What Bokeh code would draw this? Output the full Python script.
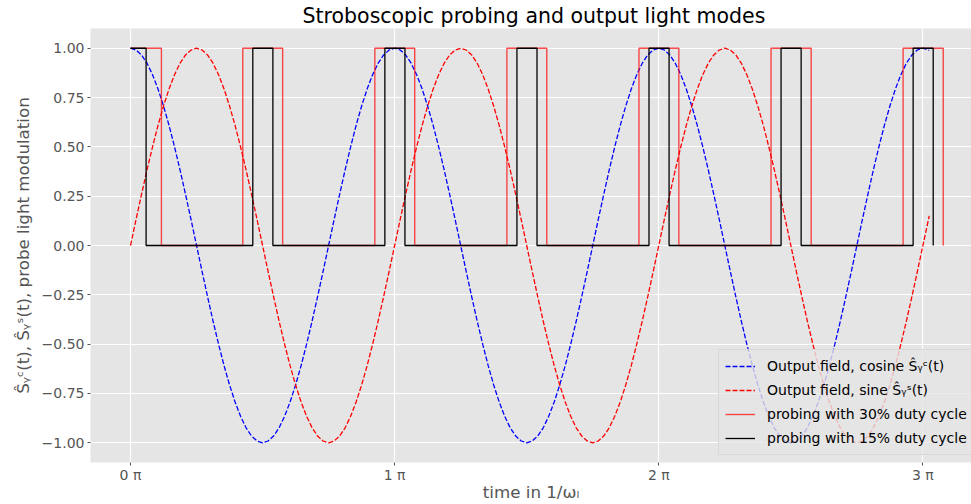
from bokeh.plotting import figure
from bokeh.models import Range1d, FixedTicker, Legend, LegendItem
from bokeh.embed import file_html
from bokeh.resources import INLINE

# ---- data (time in units of pi, sampled every pi/48, plus the last sample) ----
t_pi = [i / 48 for i in range(145)] + [3.024]

cos_vals = [
    1, 0.991, 0.966, 0.924, 0.866, 0.793, 0.707, 0.609, 0.5, 0.383, 0.259, 0.131,
    0, -0.131, -0.259, -0.383, -0.5, -0.609, -0.707, -0.793, -0.866, -0.924, -0.966, -0.991,
    -1, -0.991, -0.966, -0.924, -0.866, -0.793, -0.707, -0.609, -0.5, -0.383, -0.259, -0.131,
    0, 0.131, 0.259, 0.383, 0.5, 0.609, 0.707, 0.793, 0.866, 0.924, 0.966, 0.991,
    1, 0.991, 0.966, 0.924, 0.866, 0.793, 0.707, 0.609, 0.5, 0.383, 0.259, 0.131,
    0, -0.131, -0.259, -0.383, -0.5, -0.609, -0.707, -0.793, -0.866, -0.924, -0.966, -0.991,
    -1, -0.991, -0.966, -0.924, -0.866, -0.793, -0.707, -0.609, -0.5, -0.383, -0.259, -0.131,
    0, 0.131, 0.259, 0.383, 0.5, 0.609, 0.707, 0.793, 0.866, 0.924, 0.966, 0.991,
    1, 0.991, 0.966, 0.924, 0.866, 0.793, 0.707, 0.609, 0.5, 0.383, 0.259, 0.131,
    0, -0.131, -0.259, -0.383, -0.5, -0.609, -0.707, -0.793, -0.866, -0.924, -0.966, -0.991,
    -1, -0.991, -0.966, -0.924, -0.866, -0.793, -0.707, -0.609, -0.5, -0.383, -0.259, -0.131,
    0, 0.131, 0.259, 0.383, 0.5, 0.609, 0.707, 0.793, 0.866, 0.924, 0.966, 0.991,
    1, 0.989]

sin_vals = [
    0, 0.131, 0.259, 0.383, 0.5, 0.609, 0.707, 0.793, 0.866, 0.924, 0.966, 0.991,
    1, 0.991, 0.966, 0.924, 0.866, 0.793, 0.707, 0.609, 0.5, 0.383, 0.259, 0.131,
    0, -0.131, -0.259, -0.383, -0.5, -0.609, -0.707, -0.793, -0.866, -0.924, -0.966, -0.991,
    -1, -0.991, -0.966, -0.924, -0.866, -0.793, -0.707, -0.609, -0.5, -0.383, -0.259, -0.131,
    0, 0.131, 0.259, 0.383, 0.5, 0.609, 0.707, 0.793, 0.866, 0.924, 0.966, 0.991,
    1, 0.991, 0.966, 0.924, 0.866, 0.793, 0.707, 0.609, 0.5, 0.383, 0.259, 0.131,
    0, -0.131, -0.259, -0.383, -0.5, -0.609, -0.707, -0.793, -0.866, -0.924, -0.966, -0.991,
    -1, -0.991, -0.966, -0.924, -0.866, -0.793, -0.707, -0.609, -0.5, -0.383, -0.259, -0.131,
    0, 0.131, 0.259, 0.383, 0.5, 0.609, 0.707, 0.793, 0.866, 0.924, 0.966, 0.991,
    1, 0.991, 0.966, 0.924, 0.866, 0.793, 0.707, 0.609, 0.5, 0.383, 0.259, 0.131,
    0, -0.131, -0.259, -0.383, -0.5, -0.609, -0.707, -0.793, -0.866, -0.924, -0.966, -0.991,
    -1, -0.991, -0.966, -0.924, -0.866, -0.793, -0.707, -0.609, -0.5, -0.383, -0.259, -0.131,
    0, 0.150]

# switching times of the probe modulation (starts high at t=0)
edges_30 = [0.117, 0.425, 0.576, 0.925, 1.076, 1.425, 1.576, 1.925, 2.076, 2.425, 2.577, 2.925, 3.077]
edges_15 = [0.059, 0.463, 0.539, 0.963, 1.039, 1.463, 1.539, 1.963, 2.039, 2.463, 2.539, 2.963, 3.039]

x_ticks = [0, 1, 2, 3]
x_tick_labels = ["0 π", "1 π", "2 π", "3 π"]
y_ticks = [-1.0, -0.75, -0.5, -0.25, 0.0, 0.25, 0.5, 0.75, 1.0]
y_tick_labels = ["−1.00", "−0.75", "−0.50", "−0.25", "0.00", "0.25", "0.50", "0.75", "1.00"]

labels = ["Output field, cosine Ŝᵧᶜ(t)", "Output field, sine Ŝᵧˢ(t)",
          "probing with 30% duty cycle", "probing with 15% duty cycle"]


def step_line(edges, start=1):
    xs, ys = [0], [start]
    cur = start
    for e in edges:
        xs.append(e); ys.append(cur)
        cur = 1 - cur
        xs.append(e); ys.append(cur)
    return xs, ys


FONT = "DejaVu Sans"
GRAY = "#555555"

p = figure(width=971, height=504, frame_width=881, frame_height=434,
           output_backend="svg", toolbar_location=None,
           x_range=Range1d(-0.1515, 3.184), y_range=Range1d(-1.1, 1.1),
           min_border_left=90, min_border_right=0, min_border_top=28, min_border_bottom=42)

p.background_fill_color = "#E5E5E5"
p.border_fill_color = "white"
p.outline_line_color = None

p.title.text = "Stroboscopic probing and output light modes"
p.title.text_font = FONT
p.title.text_font_size = "20.5px"
p.title.text_font_style = "normal"
p.title.text_color = "black"
p.title.align = "left"
p.title.offset = 212
p.title.standoff = 2

r1 = p.line(t_pi, cos_vals, line_color="blue", line_dash="5 2", line_width=1.3)
r2 = p.line(t_pi, sin_vals, line_color="red", line_dash="5 2", line_width=1.3)
x30, y30 = step_line(edges_30)
r3 = p.line(x30, y30, line_color="red", line_alpha=0.7, line_width=1.4)
x15, y15 = step_line(edges_15)
r4 = p.line(x15, y15, line_color="black", line_width=1.3)

# axes
p.xaxis.ticker = FixedTicker(ticks=x_ticks, minor_ticks=[])
p.xaxis.major_label_overrides = {k: v for k, v in zip(x_ticks, x_tick_labels)}
p.yaxis.ticker = FixedTicker(ticks=y_ticks, minor_ticks=[])
p.yaxis.major_label_overrides = {k: v for k, v in zip(y_ticks, y_tick_labels)}

for ax in (p.xaxis, p.yaxis):
    ax.axis_line_color = None
    ax.major_tick_line_color = GRAY
    ax.major_tick_out = 3
    ax.major_tick_in = 0
    ax.minor_tick_line_color = None
    ax.major_label_text_font = FONT
    ax.major_label_text_font_size = "14px"
    ax.major_label_text_color = GRAY
    ax.axis_label_text_font = FONT
    ax.axis_label_text_font_size = "16.7px"
    ax.axis_label_text_font_style = "normal"
    ax.axis_label_text_color = GRAY

p.xaxis.axis_label = "time in 1/ωₗ"
p.yaxis.axis_label = "Ŝᵧᶜ(t), Ŝᵧˢ(t), probe light modulation"
p.xaxis.major_label_standoff = 1
p.xaxis.axis_label_standoff = -4
p.yaxis.major_label_standoff = 3
p.yaxis.axis_label_standoff = 6

p.grid.grid_line_color = "white"
p.grid.grid_line_width = 1.2

legend = Legend(items=[LegendItem(label=l, renderers=[r]) for l, r in zip(labels, [r1, r2, r3, r4])],
                location=(628, 7))
legend.background_fill_color = "#E5E5E5"
legend.background_fill_alpha = 0.8
legend.border_line_color = "#CCCCCC"
legend.label_text_font = FONT
legend.label_text_font_size = "14px"
legend.label_text_color = "black"
legend.glyph_width = 30
legend.glyph_height = 20
legend.label_height = 20
legend.label_standoff = 12
legend.spacing = 4
legend.padding = 6
legend.margin = 0
p.add_layout(legend)

open("out.html", "w").write(file_html(p, INLINE))
